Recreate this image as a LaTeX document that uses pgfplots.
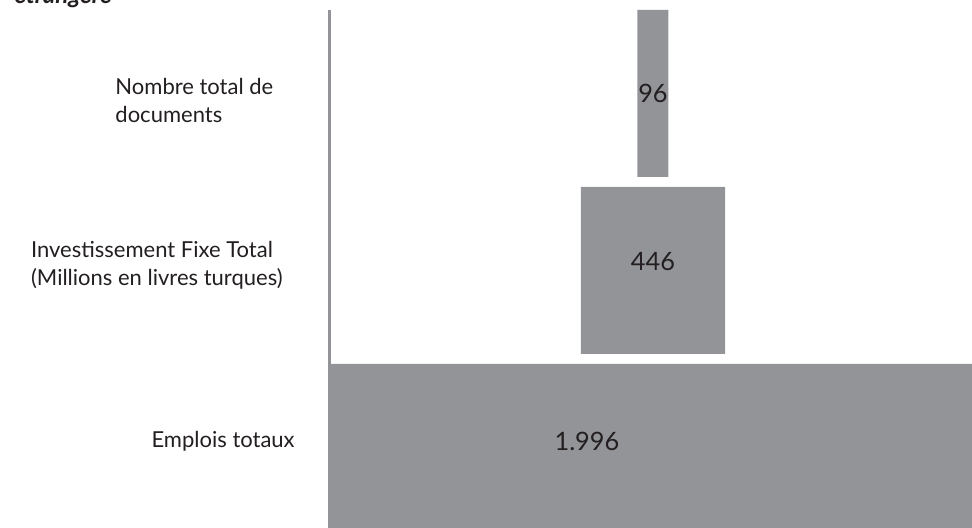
\documentclass[border=0pt]{standalone}
\usepackage{fontspec}
\setmainfont{Lato}
\usepackage{pgfplots}
\pgfplotsset{compat=1.18}
\definecolor{bargray}{HTML}{939498}
\definecolor{txt}{HTML}{231F20}
\pgfplotsset{
  funnel frame/.style={
    at={(247.5pt,60.375pt)}, anchor=origin,
    x=0.2427pt, y=132.75pt,
    xmin=0, xmax=2000, ymin=-0.5, ymax=2.4718,
  },
}
\begin{document}
\begin{tikzpicture}
\begin{axis}[
  funnel frame,
  xbar stacked, bar width=0.9435,
  axis x line=none, axis y line*=left,
  y axis line style={draw=bargray, line width=2.25pt, -},
  major tick length=0,
  ytick={0.035,1.03},
  yticklabels={Emplois totaux, {Investissement Fixe Total\\(Millions en livres turques)\rule{9pt}{0pt}}},
  extra y ticks={1.96},
  extra y tick labels={{Nombre total de\\documents}},
  yticklabel style={align=left, anchor=east, xshift=-23pt,
    font=\fontsize{16.5}{21.5}\selectfont, text=txt},
  extra y tick style={yticklabel style={xshift=-16pt}},
]
% invisible offsets, then the visible bars (centred funnel)
\addplot[draw=none, fill=none] coordinates {(0,0) (775,1) (950,2)};
\addplot[draw=none, fill=bargray] coordinates {(1996,0) (446,1) (96,2)};
\end{axis}
% same frame again, only for the values written in the bars
\begin{axis}[funnel frame, hide axis]
\addplot[draw=none, mark=none, nodes near coords,
  point meta=explicit symbolic,
  every node near coord/.append style={anchor=center, text=txt,
    font=\fontsize{19}{22}\selectfont}]
  coordinates {(794,0.037) [1.996] (998,1.048) [446] (998,2) [96]};
\end{axis}
\node[anchor=base east, text=txt, inner sep=0pt,
  font=\fontsize{18}{22}\selectfont\bfseries\itshape]
  at (84pt,393pt) {étrangère};
\pgfresetboundingbox
\path[use as bounding box] (0,0) rectangle (729pt,396pt);
\end{tikzpicture}
\end{document}
